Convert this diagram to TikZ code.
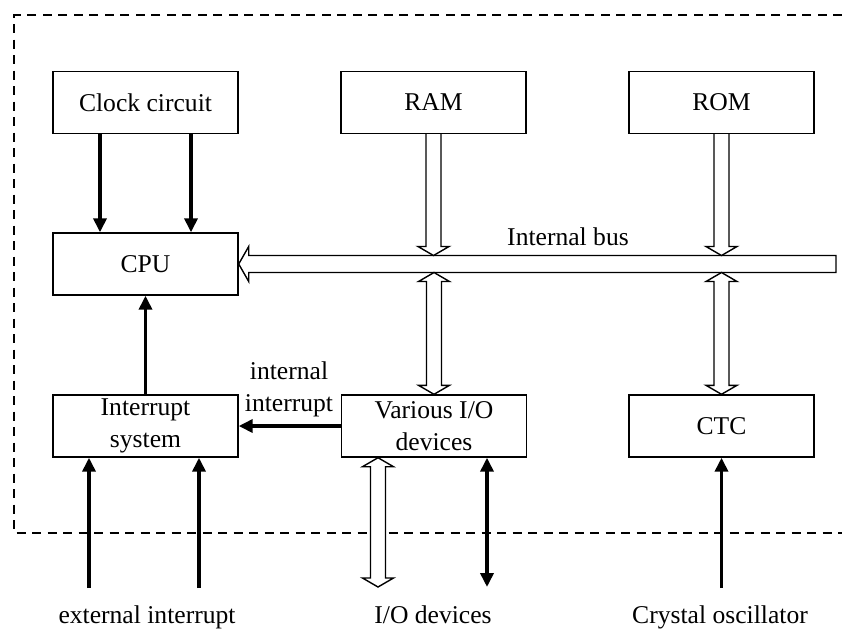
\documentclass[tikz,border=0pt]{standalone}
\usepackage{fontspec}
\setmainfont{Liberation Serif}
\usetikzlibrary{arrows.meta,calc}

% hollow bus arrows, vertical
\newcommand{\busdown}[2]{%
\draw[hollow] let \p1=(#1), \p2=(#2) in
 (\x1-7.5pt,\y1) -- (\x1-7.5pt,\y2+9pt) -- (\x1-15.5pt,\y2+9pt) -- (\x1,\y2)
 -- (\x1+15.5pt,\y2+9pt) -- (\x1+7.5pt,\y2+9pt) -- (\x1+7.5pt,\y1);
}
\newcommand{\busboth}[2]{%
\draw[hollow] let \p1=(#1), \p2=(#2) in
 (\x1,\y1) -- (\x1+15.5pt,\y1-9pt) -- (\x1+7.5pt,\y1-9pt) -- (\x1+7.5pt,\y2+9pt)
 -- (\x1+15.5pt,\y2+9pt) -- (\x1,\y2) -- (\x1-15.5pt,\y2+9pt) -- (\x1-7.5pt,\y2+9pt)
 -- (\x1-7.5pt,\y1-9pt) -- (\x1-15.5pt,\y1-9pt) -- cycle;
}

\begin{document}
\begin{tikzpicture}
[x=1pt,y=-1pt,every node/.style={font=\fontsize{25.6}{32}\selectfont,inner sep=2pt},
 box/.style={draw,line width=1.4pt,minimum width=185pt,minimum height=62pt,align=center},
 sig/.style={line width=3.6pt,-{Triangle[length=14pt,width=13pt]}},
 sigboth/.style={line width=3.6pt,{Triangle[length=14pt,width=13pt]}-{Triangle[length=14pt,width=13pt]}},
 hollow/.style={line width=1.4pt,fill=white,line join=miter}]
\useasboundingbox (0,0) rectangle (842,630);
% chip border
\draw[line width=1.3pt,dash pattern=on 9pt off 6.5pt] (842,15) -- (14,15) -- (14,533) -- (842,533);
\node[box] (clock) at (145.5,102.5) {Clock circuit};
\node[box] (ram) at (433.5,102.5) {RAM};
\node[box] (rom) at (721.5,102.5) {ROM};
\node[box] (cpu) at (145.5,264) {CPU};
\node[box] (intr) at (145.5,426) {Interrupt\\system};
\node[box] (io) at (434,426) {Various I/O\\devices};
\node[box] (ctc) at (721.5,426) {CTC};
\node (ibus) at (568,237) {Internal bus};
\node[align=center] (iint) at (289,389) {internal\\interrupt};
\node[anchor=base] (ext) at (147,623) {external interrupt};
\node[anchor=base] (iodev) at (433,623) {I/O devices};
\node[anchor=base] (xtal) at (720,623) {Crystal oscillator};
\coordinate (busend) at (836,264);
\coordinate (busN) at (836,255.5);
\coordinate (busS) at (836,272.5);
\coordinate (ext1) at (89,588);
\coordinate (ext2) at (199,588);
\coordinate (ioa) at (378,587);
\coordinate (iob) at (487,587);
\coordinate (osc) at (721.5,588);
% internal bus
\draw[hollow] let \p1=(cpu.east), \p2=(busend) in
 (\x1,\y1) -- (\x1+10pt,\y1+17.5pt) -- (\x1+10pt,\y1+8.5pt) -- (\x2,\y1+8.5pt)
 -- (\x2,\y1-8.5pt) -- (\x1+10pt,\y1-8.5pt) -- (\x1+10pt,\y1-17.5pt) -- cycle;
\busdown{ram.south}{ram.south |- busN}
\busdown{rom.south}{rom.south |- busN}
\busboth{io.north |- busS}{io.north}
\busboth{ctc.north |- busS}{ctc.north}
\busboth{io.south -| ioa}{ioa}
% signals
\draw[sig] ([xshift=-45.5pt]clock.south) -- ([xshift=-45.5pt]cpu.north);
\draw[sig] ([xshift=45.5pt]clock.south) -- ([xshift=45.5pt]cpu.north);
\draw[sig] (intr.north) -- (cpu.south);
\draw[sig] (io.west) -- (intr.east);
\foreach \from in {ext1,ext2}
\draw[sig] (\from) -- (intr.south -| \from);
\draw[sigboth] (io.south -| iob) -- (iob);
\draw[sig] (osc) -- (ctc.south);
\end{tikzpicture}
\end{document}
